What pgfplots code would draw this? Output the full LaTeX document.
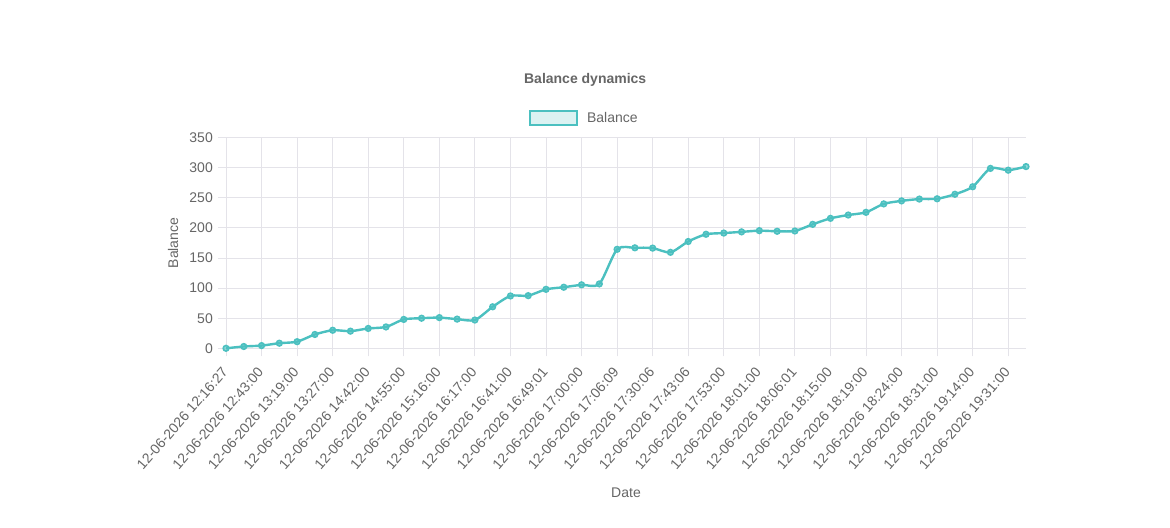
\documentclass[border=0pt]{standalone}
\usepackage{fontspec}
\setmainfont{Liberation Sans}
\usepackage{pgfplots}
\usepackage{pgfplotstable}
\pgfplotsset{compat=1.18}

\definecolor{lineteal}{RGB}{75,192,192}
\definecolor{legfill}{RGB}{219,242,242}
\definecolor{gridc}{RGB}{228,227,233}
\definecolor{txt}{RGB}{102,102,102}

% balance after each trade
\pgfplotstableread{
i v
0 0
1 3
2 4.5
3 8.5
4 11
5 23
6 30
7 28.5
8 33
9 35.5
10 48
11 50
12 51
13 48.5
14 47
15 69
16 87
17 87.5
18 98
19 101.5
20 105.5
21 107
22 164.5
23 167
24 166.5
25 159.5
26 177.5
27 189.5
28 191.5
29 193.5
30 195.5
31 194.5
32 195
33 206
34 216
35 221.5
36 226
37 240
38 245
39 248
40 248.5
41 256
42 268.5
43 299
44 296
45 302
}\balance

\begin{document}
\begin{tikzpicture}
\path[use as bounding box, fill=white] (0,0) rectangle (1170bp,528bp);
\begin{axis}[
  at={(226bp,179.7bp)}, anchor=south west,
  scale only axis, width=800bp, height=210.6bp,
  xmin=0, xmax=45, ymin=0, ymax=350,
  clip=false,
  xtick={0,2,...,44},
  xticklabels={
    12-06-2026 12:16:27, 12-06-2026 12:43:00, 12-06-2026 13:19:00,
    12-06-2026 13:27:00, 12-06-2026 14:42:00, 12-06-2026 14:55:00,
    12-06-2026 15:16:00, 12-06-2026 16:17:00, 12-06-2026 16:41:00,
    12-06-2026 16:49:01, 12-06-2026 17:00:00, 12-06-2026 17:06:09,
    12-06-2026 17:30:06, 12-06-2026 17:43:06, 12-06-2026 17:53:00,
    12-06-2026 18:01:00, 12-06-2026 18:06:01, 12-06-2026 18:15:00,
    12-06-2026 18:19:00, 12-06-2026 18:24:00, 12-06-2026 18:31:00,
    12-06-2026 19:14:00, 12-06-2026 19:31:00},
  ytick={0,50,...,350},
  grid=major,
  major grid style={gridc, line width=1bp},
  separate axis lines,
  axis x line*=bottom, axis y line*=left,
  axis line style={gridc, line width=1bp, -},
  tick style={gridc, line width=1bp},
  major tick length=8bp, tick align=outside,
  /pgf/number format/assume math mode=true,
  ticklabel style={font=\fontsize{14bp}{16bp}\selectfont, text=txt},
  xticklabel style={anchor=east, inner sep=0pt, xshift=-1bp, yshift=-13bp, rotate=49},
  yticklabel style={anchor=east, inner sep=0pt, xshift=-5bp},
  xlabel={Date}, ylabel={Balance},
  label style={font=\fontsize{14bp}{16bp}\selectfont, text=txt},
  xlabel style={at={(axis description cs:0.5,-0.687)}, anchor=center},
  ylabel style={at={(axis description cs:-0.066,0.5)}, anchor=center, rotate=0},
  title={Balance dynamics},
  title style={at={(axis description cs:0.449,1.245)}, anchor=center,
    font=\fontsize{14bp}{16bp}\selectfont\bfseries, text=txt},
  legend style={at={(axis description cs:0.448,1.0935)}, anchor=center,
    draw=none, fill=none, font=\fontsize{14bp}{16bp}\selectfont, text=txt,
    inner sep=0pt, /tikz/every odd column/.append style={column sep=7bp}},
  legend image code/.code={
    \draw[draw=lineteal, fill=legfill, line width=2bp] (0bp,-7bp) rectangle (47bp,7bp);},
]
\addplot[lineteal, line width=2.4bp, smooth, tension=0.45,
  mark=*, mark size=2.8bp,
  mark options={fill=lineteal, fill opacity=0.6, draw=lineteal, draw opacity=1, line width=1.6bp}]
  table[x=i, y=v] {\balance};
\addlegendentry{Balance}
\end{axis}
\end{tikzpicture}
\end{document}
